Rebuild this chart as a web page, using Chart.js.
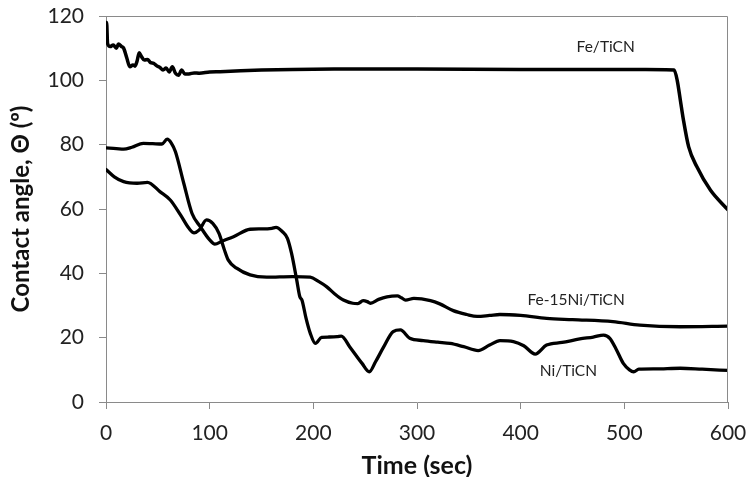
<!DOCTYPE html>
<html>
<head>
<meta charset="utf-8">
<script src="https://cdn.jsdelivr.net/npm/chart.js@4/dist/chart.umd.min.js"></script>
<style>
  html, body { margin: 0; padding: 0; background: #fff; }
  #wrap { width: 749px; height: 477px; }
</style>
</head>
<body>
<div id="wrap"><canvas id="c" width="749" height="477"></canvas></div>
<script>
// ---- data ----
const feTime = [0,0.6,1.5,4,7,10,12,15,17,20,23,26,28,30,32,34,37,40,43,46,49,52,55,58,61,64,67,70,73,76,80,85,90,100,110,130,150,180,220,300,400,500,540,548,551,554,557,562,570,583,600];
const feValues = [113,118,111.5,110.5,111,110,111.3,110.5,110,107,104.2,104.8,104.4,106,108.6,107.5,106.3,106.5,105.5,105.3,104.5,104,103.2,103.8,102.6,104.2,102.2,101.6,103.2,102,102,102.3,102.2,102.6,102.7,103,103.2,103.4,103.5,103.5,103.4,103.4,103.3,103.2,100,93.9,87.7,79.4,73.1,65.9,59.7];

const niTime = [0,10,17,25,36,45,54,59,63,67,75,83,91,100,105,112,123,139,150,160,164,170,175,179,184,187,189,193,197,202,208,215,223,227,235,247,254,260,268,277,284,293,306,320,332,345,359,370,380,393,403,414,425,440,457,470,480,486,492,499,505,509,514,530,554,575,600];
const niValues = [79,78.8,78.6,79.2,80.4,80.3,80.2,81.7,80.5,77.8,68,58.6,54.5,50.4,49.1,50,51.4,53.7,53.8,54,54.3,53,50.9,46.2,37.9,32.7,31.7,26,21.4,18.2,20.1,20.2,20.3,20.5,17.2,12,9.4,12.5,17.2,21.9,22.4,19.8,19.1,18.6,18.2,17.2,16,17.7,19.1,18.8,17.5,14.9,17.7,18.5,19.6,20.2,20.8,19.8,16.5,12,10,9.4,10.2,10.3,10.5,10.2,9.8];

const fniTime = [0,8,17,30,40,52,62,72,80,85,90,97,103,109,114,118,126,139,155,180,197,205,213,221,229,238,243,248,252,255,263,271,281,285,289,297,313,322,335,348,358,370,380,400,425,450,489,515,554,600];
const fniValues = [72.3,70,68.5,68,68.3,65.4,62.8,58.1,54,52.6,53.5,56.6,55.5,52.4,47.5,44.1,41.6,39.5,38.8,39,38.8,37.5,35.8,33.5,31.7,30.7,30.6,31.5,31.2,30.7,31.9,32.7,33,32.4,31.7,32.2,31.5,30.5,28.4,27.2,26.6,26.9,27.2,26.9,26,25.6,25,23.9,23.4,23.6];

const seriesNames = ["Fe/TiCN", "Ni/TiCN", "Fe-15Ni/TiCN"];
const xTicks = [0,100,200,300,400,500,600];
const yTicks = [0,20,40,60,80,100,120];
// label anchors (data coordinates) for the in-plot series names
const labelTimes = [482, 446, 453.5];
const labelValues = [110.3, 9.7, 31.7];

const FONT = "Lato, 'Liberation Sans', sans-serif";

function pts(xs, ys) { return xs.map((x, i) => ({ x: x, y: ys[i] })); }

const framePlugin = {
  id: 'frame',
  afterDatasetsDraw(chart) {
    const { ctx, chartArea: a } = chart;
    ctx.save();
    ctx.strokeStyle = '#8a8a8a';
    ctx.lineWidth = 1;
    ctx.beginPath();
    ctx.moveTo(a.left, a.top + 0.5);
    ctx.lineTo(a.right - 0.5, a.top + 0.5);
    ctx.lineTo(a.right - 0.5, a.bottom);
    ctx.stroke();
    ctx.restore();
  }
};

const labelPlugin = {
  id: 'seriesLabels',
  afterDatasetsDraw(chart) {
    const { ctx, scales } = chart;
    ctx.save();
    ctx.fillStyle = '#222';
    ctx.font = "15.5px " + FONT;
    ctx.textAlign = 'center';
    ctx.textBaseline = 'middle';
    seriesNames.forEach((n, i) => {
      ctx.fillText(n, scales.x.getPixelForValue(labelTimes[i]), scales.y.getPixelForValue(labelValues[i]));
    });
    ctx.restore();
  }
};

const mk = (label, xs, ys, w) => ({
  label: label,
  data: pts(xs, ys),
  borderColor: '#000',
  borderWidth: w,
  pointRadius: 0,
  fill: false,
  cubicInterpolationMode: 'monotone',
  borderCapStyle: 'round',
  borderJoinStyle: 'round'
});

new Chart(document.getElementById('c'), {
  type: 'line',
  data: {
    datasets: [
      mk(seriesNames[0], feTime, feValues, 3.5),
      mk(seriesNames[1], niTime, niValues, 3.3),
      mk(seriesNames[2], fniTime, fniValues, 3.3)
    ]
  },
  options: {
    responsive: false,
    animation: false,
    layout: { padding: { left: 0, right: 21, top: 16, bottom: 0 } },
    plugins: { legend: { display: false }, tooltip: { enabled: false } },
    scales: {
      x: {
        type: 'linear',
        min: 0, max: 600,
        afterFit(s) { s.height = 75; s.paddingLeft = 0; s.paddingRight = 0; },
        afterBuildTicks(s) { s.ticks = xTicks.map(v => ({ value: v })); },
        grid: { drawOnChartArea: false, drawTicks: true, tickLength: 7, color: '#8a8a8a' },
        border: { color: '#8a8a8a', width: 1 },
        ticks: { color: '#222', font: { family: FONT, size: 21 }, padding: 12, maxRotation: 0 },
        title: { display: true, text: 'Time (sec)', color: '#111', font: { family: FONT, size: 25, weight: 'bold', lineHeight: 1 }, padding: { top: 0, bottom: -1 } }
      },
      y: {
        type: 'linear',
        min: 0, max: 120,
        afterFit(s) { s.width = 106; s.paddingTop = 0; s.paddingBottom = 0; },
        afterBuildTicks(s) { s.ticks = yTicks.map(v => ({ value: v })); },
        grid: { drawOnChartArea: false, drawTicks: true, tickLength: 7, color: '#8a8a8a' },
        border: { color: '#8a8a8a', width: 1 },
        ticks: { color: '#222', font: { family: FONT, size: 21 }, padding: 15 },
        title: { display: true, text: 'Contact angle, Θ (º)', color: '#111', font: { family: FONT, size: 24, weight: 'bold', lineHeight: 1.2 }, padding: { top: 7, bottom: 0 } }
      }
    }
  },
  plugins: [framePlugin, labelPlugin]
});
</script>
</body>
</html>
